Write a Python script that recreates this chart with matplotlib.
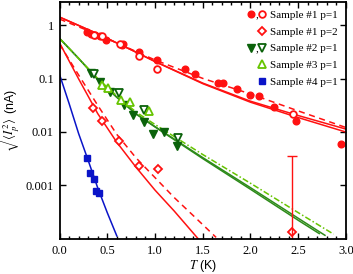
import matplotlib
matplotlib.use('Agg')
import matplotlib.pyplot as plt
from matplotlib.lines import Line2D
from matplotlib.text import Text
from matplotlib.legend_handler import HandlerTuple
from matplotlib.ticker import MultipleLocator, FixedLocator, FixedFormatter, NullLocator

plt.rcParams['font.family'] = ['Liberation Serif', 'DejaVu Serif']
plt.rcParams['mathtext.fontset'] = 'stix'

RED = '#ff1111'
DGREEN = '#0b620b'
GLINE = '#2e8b1a'
LGREEN = '#66c400'
BLUE = '#0a14c8'

# measured points
s1_fill_T = [0.29, 0.33, 0.37, 0.42, 0.49, 0.65, 0.67, 0.83, 1.02, 1.31, 1.42, 1.66, 1.71, 1.86, 2.0, 2.09, 2.25, 2.48, 2.95]
s1_fill_I = [0.74, 0.69, 0.66, 0.64, 0.53, 0.43, 0.45, 0.32, 0.22, 0.153, 0.122, 0.082, 0.082, 0.063, 0.050, 0.047, 0.029, 0.0162, 0.0059]
s1_open_T = [0.36, 0.44, 0.63, 0.83, 1.02, 2.44]
s1_open_I = [0.65, 0.63, 0.44, 0.265, 0.151, 0.0221]
s1p2_T = [0.35, 0.44, 0.62, 0.83, 1.03, 2.43]
s1p2_I = [0.0277, 0.0162, 0.0068, 0.0023, 0.0020, 0.000132]
err_T = [2.43]
err_I = [0.000132]
err_lo = [0.00009]
err_hi = [0.00347]
s2_fill_T = [0.33, 0.42, 0.53, 0.68, 0.77, 0.89, 0.98, 1.09, 1.23]
s2_fill_I = [0.129, 0.0875, 0.057, 0.032, 0.0207, 0.0155, 0.0091, 0.0101, 0.0054]
s2_open_T = [0.36, 0.62, 0.89, 1.24]
s2_open_I = [0.122, 0.054, 0.026, 0.0076]
s3_T = [0.44, 0.51, 0.64, 0.74, 0.94]
s3_I = [0.076, 0.066, 0.040, 0.037, 0.025]
s4_T = [0.285, 0.32, 0.36, 0.385, 0.41]
s4_I = [0.0032, 0.0017, 0.0013, 0.00078, 0.00071]

# fit curves
fit1_T = [0, 0.25, 0.5, 0.75, 1.0, 1.5, 2.0, 2.5, 3.0]
fit1_a = [1.43, 0.91, 0.568, 0.348, 0.209, 0.0805, 0.0361, 0.0186, 0.00995]
fit1_b = [1.43, 0.91, 0.568, 0.348, 0.21, 0.0825, 0.0377, 0.0203, 0.0113]
fit1_d = [1.31, 0.863, 0.561, 0.355, 0.224, 0.101, 0.0516, 0.0248, 0.0121]
fit2_T = [0, 0.2, 0.4, 0.6, 0.8, 1.0, 1.2, 1.45]
fit2_s = [0.47, 0.099, 0.0221, 0.0064, 0.00219, 0.00081, 0.00033, 0.0001]
fit2d_T = [0, 0.2, 0.4, 0.6, 0.8, 1.0, 1.2, 1.4, 1.64]
fit2_d = [0.446, 0.117, 0.0316, 0.009, 0.00328, 0.00139, 0.00059, 0.00027, 0.000105]
fit3a_T = [0, 0.2, 0.4, 0.6, 0.8, 1.0, 1.5, 2.0, 2.5, 2.72]
fit3_a = [0.57, 0.239, 0.0962, 0.0446, 0.0217, 0.0124, 0.00316, 0.00084, 0.00022, 0.000124]
fit3b_T = [0, 0.2, 0.4, 0.6, 0.8, 1.0, 1.5, 2.0, 2.5, 2.78]
fit3_b = [0.57, 0.24, 0.097, 0.045, 0.022, 0.0126, 0.0033, 0.0009, 0.00024, 0.000115]
fit3c_T = [0, 0.2, 0.4, 0.6, 0.8, 1.0, 1.5, 2.0, 2.5, 2.87]
fit3_c = [0.57, 0.24, 0.1005, 0.0476, 0.0237, 0.0138, 0.00377, 0.00109, 0.000306, 0.000121]
fit4_T = [0, 0.1, 0.2, 0.3, 0.4, 0.5, 0.6]
fit4_s = [0.12, 0.0343, 0.00933, 0.00293, 0.000894, 0.000306, 0.000112]

legend_labels = ['Sample #1 p=1', 'Sample #1 p=2', 'Sample #2 p=1', 'Sample #3 p=1', 'Sample #4 p=1']


class CommaTuple(HandlerTuple):
    # two markers with a comma in between, like "●, ○"
    def create_artists(self, legend, orig_handle, xdescent, ydescent, width, height, fontsize, trans):
        arts = super().create_artists(legend, orig_handle, xdescent, ydescent, width, height, fontsize, trans)
        if orig_handle[0].get_marker() not in (None, 'None', ''):
            t = Text(-xdescent + width * 0.5, -ydescent + height * 0.05, ',',
                     fontsize=fontsize, ha='center', va='baseline', color='black')
            t.set_transform(trans)
            arts.append(t)
        return arts


fig = plt.figure(figsize=(3.53, 2.74), dpi=100)
ax = fig.add_axes([0.1686, 0.1277, 0.8115, 0.8650])

lw = 1.1
ax.plot(fit1_T, fit1_a, color=RED, lw=lw)
ax.plot(fit1_T, fit1_b, color=RED, lw=lw)
ax.plot(fit1_T, fit1_d, color=RED, lw=lw, dashes=(4, 3))
ax.plot(fit2_T, fit2_s, color=RED, lw=lw)
ax.plot(fit2d_T, fit2_d, color=RED, lw=lw, dashes=(4, 3))
ax.plot(fit3a_T, fit3_a, color=GLINE, lw=lw)
ax.plot(fit3b_T, fit3_b, color=GLINE, lw=lw)
ax.plot(fit3c_T, fit3_c, color=LGREEN, lw=lw, dashes=(4, 1.5, 1, 1.5))
ax.plot(fit4_T, fit4_s, color=BLUE, lw=lw)

ms = 4.8
h1 = ax.plot(s1_fill_T, s1_fill_I, 'o', color=RED, ms=ms, ls='none')[0]
h1o = ax.plot(s1_open_T, s1_open_I, 'o', mfc='white', mec=RED, mew=1.3, ms=ms, ls='none')[0]
h2 = ax.plot(s1p2_T, s1p2_I, 'D', mfc='white', mec=RED, mew=1.3, ms=4.4, ls='none')[0]
ax.errorbar(err_T, err_I, yerr=[err_lo, err_hi], fmt='none', ecolor=RED, elinewidth=1.0, capsize=3.5, capthick=1.0)
h3 = ax.plot(s2_fill_T, s2_fill_I, 'v', color=DGREEN, ms=5.4, ls='none')[0]
h3o = ax.plot(s2_open_T, s2_open_I, 'v', mfc='white', mec=DGREEN, mew=1.3, ms=5.4, ls='none')[0]
h4 = ax.plot(s3_T, s3_I, '^', mfc='white', mec=LGREEN, mew=1.3, ms=5.4, ls='none')[0]
h5 = ax.plot(s4_T, s4_I, 's', color=BLUE, ms=4.4, ls='none')[0]

blank = Line2D([], [], ls='none', marker='None')
handles = [(h1, h1o), (blank, h2), (h3, h3o), (blank, h4), (blank, h5)]
ax.legend(handles, legend_labels, handler_map={tuple: CommaTuple(ndivide=None, pad=0.6)},
          loc='upper right', frameon=False, fontsize=8, handlelength=1.4,
          handletextpad=0.5, labelspacing=0.62, borderaxespad=0.45, borderpad=0.3)

ax.set_yscale('log')
ax.set_xlim(0, 3.0)
ax.set_ylim(9.8e-5, 2.74)
ax.xaxis.set_major_locator(MultipleLocator(0.5))
ax.xaxis.set_minor_locator(MultipleLocator(0.1))
ax.xaxis.set_major_formatter(matplotlib.ticker.FormatStrFormatter('%.1f'))
ax.yaxis.set_major_locator(FixedLocator([0.001, 0.01, 0.1, 1]))
ax.yaxis.set_major_formatter(FixedFormatter(['0.001', '0.01', '0.1', '1']))
ax.yaxis.set_minor_locator(NullLocator())
ax.tick_params(which='both', direction='in', top=True, right=True, labelsize=9, width=1.0)
ax.tick_params(which='major', length=4, pad=4)
ax.tick_params(which='minor', length=2)
for s in ax.spines.values():
    s.set_linewidth(1.3)

ax.set_xlabel(r'$T$ (K)', family=['Liberation Sans'], fontsize=9, labelpad=1)
ax.set_ylabel(r'$\sqrt{\langle I_p^2\rangle}$ (nA)', family=['Liberation Sans'], fontsize=9, labelpad=2.5)

fig.savefig('out.png', dpi=100)
